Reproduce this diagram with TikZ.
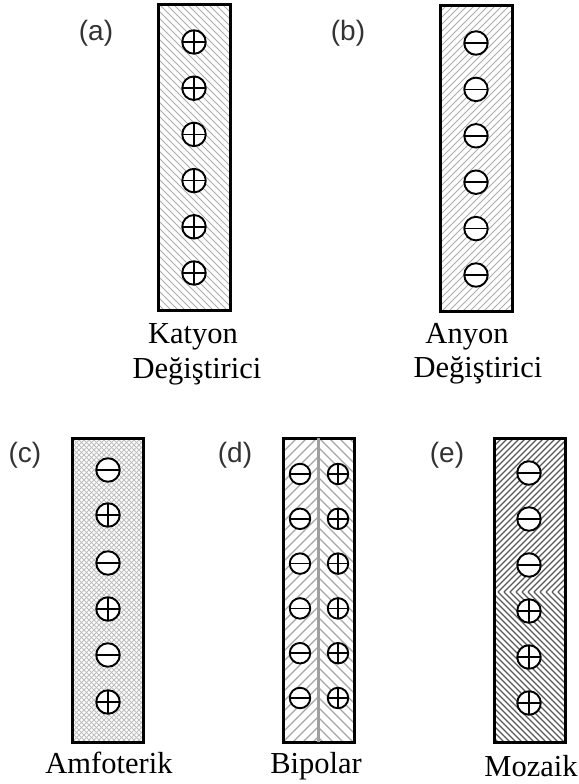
\documentclass[tikz,border=0pt]{standalone}
\usepackage{fontspec}
\setmainfont{Liberation Serif}
\newfontfamily\lblfont{Liberation Sans}
% "/" hatch: x0 y0 x1 y1 step style
\newcommand{\hatchNE}[6]{%
  \begin{scope}
    \clip (#1,#2) rectangle (#3,#4);
    \foreach \k in {0,...,90} \draw[#6] ({#1-320+\k*#5},#4) -- ++(330,-330);
  \end{scope}}
% "\" hatch
\newcommand{\hatchNW}[6]{%
  \begin{scope}
    \clip (#1,#2) rectangle (#3,#4);
    \foreach \k in {0,...,90} \draw[#6] ({#1-320+\k*#5},#2) -- ++(330,330);
  \end{scope}}
\begin{document}
\begin{tikzpicture}[x=1pt,y=-1pt,
  membrane/.style={rectangle, draw=black, line width=3pt, inner sep=0pt},
  ionbase/.style={circle, draw=black, line width=1.9pt, fill=white, inner sep=0pt, minimum size=23.5pt},
  plusion/.style={ionbase, path picture={\draw[line width=1.6pt]
      (path picture bounding box.north) -- (path picture bounding box.south)
      (path picture bounding box.west) -- (path picture bounding box.east);}},
  minusion/.style={ionbase, path picture={\draw[line width=1.6pt]
      (path picture bounding box.west) -- (path picture bounding box.east);}},
  smallion/.style={minimum size=20.5pt},
  captiontext/.style={font=\fontsize{30.5}{36}\selectfont, anchor=base, inner sep=0pt, text=black},
  paneltag/.style={font=\lblfont\fontsize{28}{30}\selectfont, text=black!80, inner sep=0pt},
  lighthatch/.style={gray!65, line width=1pt},
  crosshatch/.style={gray!50, line width=0.8pt},
  midhatch/.style={gray!70, line width=1.1pt},
  darkhatch/.style={black!65, line width=1.3pt},
  divider/.style={gray!75, line width=2.5pt}
]
\useasboundingbox (0,0) rectangle (578,784);

% ---------- hatching ----------
\hatchNW{158}{5}{230}{310}{7}{lighthatch}
\hatchNE{440}{6}{512}{311}{7}{lighthatch}
\hatchNE{72}{438}{143}{742}{5}{crosshatch}
\hatchNW{72}{438}{143}{742}{5}{crosshatch}
\hatchNE{283}{438}{319}{742}{10}{midhatch}
\hatchNW{319}{438}{354}{742}{10}{midhatch}
\hatchNE{494}{438}{565}{592}{6}{darkhatch}
\hatchNW{494}{592}{565}{742}{6}{darkhatch}

% ---------- membranes ----------
\node[membrane, minimum width=72pt, minimum height=305pt] (boxa) at (194,157.5) {};
\node[membrane, minimum width=72pt, minimum height=305pt] (boxb) at (476,158.5) {};
\node[membrane, minimum width=71pt, minimum height=304pt] (boxc) at (107.5,590) {};
\node[membrane, minimum width=71pt, minimum height=304pt] (boxd) at (318.5,590) {};
\node[membrane, minimum width=71pt, minimum height=304pt] (boxe) at (529.5,590) {};
\draw[divider, shorten >=1.5pt, shorten <=1.5pt] (boxd.north) -- (boxd.south);

% ---------- ions ----------
\foreach \y [count=\i] in {42,88.2,134.4,180.6,226.8,273}
  \node[plusion] (a\i) at (194,\y) {};
\foreach \y [count=\i] in {43,89.4,135.8,182.2,228.6,275}
  \node[minusion] (b\i) at (476,\y) {};
\node[minusion] (c1) at (108,470) {};
\node[plusion]  (c2) at (108,515) {};
\node[minusion] (c3) at (108,563) {};
\node[plusion]  (c4) at (108,609) {};
\node[minusion] (c5) at (108,655) {};
\node[plusion]  (c6) at (108,702) {};
\foreach \y [count=\i] in {474,518.8,563.6,608.4,653.2,698} {
  \node[minusion, smallion] (dl\i) at (300,\y) {};
  \node[plusion, smallion] (dr\i) at (338,\y) {};
}
\foreach \y [count=\i] in {473,519,565} \node[minusion] (e\i) at (529,\y) {};
\foreach \y [count=\i] in {611,657,703} \node[plusion] (ep\i) at (529,\y) {};

% ---------- tags ----------
\node[paneltag] (ta) at (96,33) {(a)};
\node[paneltag] (tb) at (348,33) {(b)};
\node[paneltag] (tc) at (25,455) {(c)};
\node[paneltag] (td) at (235,455) {(d)};
\node[paneltag] (te) at (447,455) {(e)};

% ---------- names ----------
\node[captiontext] (na1) at (193,343) {Katyon};
\node[captiontext] (na2) at (197,378) {Değiştirici};
\node[captiontext] (nb1) at (467,343) {Anyon};
\node[captiontext] (nb2) at (478,377) {Değiştirici};
\node[captiontext] (nc) at (109,773) {Amfoterik};
\node[captiontext] (nd) at (316,773) {Bipolar};
\node[captiontext] (ne) at (531,776) {Mozaik};
\end{tikzpicture}
\end{document}
